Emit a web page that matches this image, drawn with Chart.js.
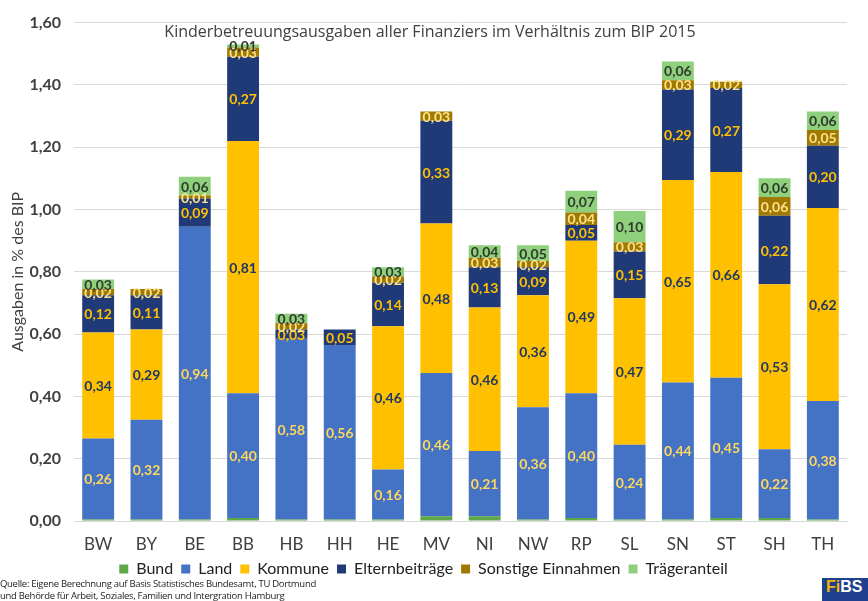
<!DOCTYPE html>
<html>
<head>
<meta charset="utf-8">
<script src="https://cdn.jsdelivr.net/npm/chart.js@4"></script>
<style>
  body { margin: 0; background: #fff; }
  #wrap { position: relative; width: 868px; height: 601px; font-family: 'Open Sans', sans-serif; }
  #titel { position: absolute; left: 0; width: 860px; top: 20px; text-align: center; font-size: 16px; color: #404040; }
  #quelle { position: absolute; left: 0; top: 578px; font-size: 9.5px; line-height: 11.5px; color: #222; letter-spacing: -0.3px; }
  #logo { position: absolute; right: 0; top: 578px; width: 46px; height: 23px; background: #1f3f8f; color: #fff; font: bold 16px 'Liberation Sans', sans-serif; padding-left: 4px; box-sizing: border-box; }
  #logo span { color: #f2b800; }
</style>
</head>
<body>
<div id="wrap">
  <canvas id="graficoBIP" width="868" height="601"></canvas>
  <div id="titel">Kinderbetreuungsausgaben aller Finanziers im Verhältnis zum BIP 2015</div>
  <div id="quelle">Quelle: Eigene Berechnung auf Basis Statistisches Bundesamt, TU Dortmund<br>und Behörde für Arbeit, Soziales, Familien und Intergration Hamburg</div>
  <div id="logo"><span>Fi</span>BS</div>
</div>
<script>
    // Daten (Anteile am BIP in %)
    const laender = ['BW', 'BY', 'BE', 'BB', 'HB', 'HH', 'HE', 'MV', 'NI', 'NW', 'RP', 'SL', 'SN', 'ST', 'SH', 'TH'];
    const bund      = [0.005, 0.005, 0.005, 0.01, 0.005, 0.005, 0.005, 0.015, 0.015, 0.005, 0.01, 0.005, 0.005, 0.01, 0.01, 0.005];
    const land      = [0.26, 0.32, 0.94, 0.40, 0.58, 0.56, 0.16, 0.46, 0.21, 0.36, 0.40, 0.24, 0.44, 0.45, 0.22, 0.38];
    const kommune   = [0.34, 0.29, 0, 0.81, 0, 0, 0.46, 0.48, 0.46, 0.36, 0.49, 0.47, 0.65, 0.66, 0.53, 0.62];
    const eltern    = [0.12, 0.11, 0.09, 0.27, 0.03, 0.05, 0.14, 0.33, 0.13, 0.09, 0.05, 0.15, 0.29, 0.27, 0.22, 0.20];
    const sonstige  = [0.02, 0.02, 0.01, 0.03, 0.02, 0, 0.02, 0.03, 0.03, 0.02, 0.04, 0.03, 0.03, 0.02, 0.06, 0.05];
    const traeger   = [0.03, 0, 0.06, 0.01, 0.03, 0, 0.03, 0, 0.04, 0.05, 0.07, 0.10, 0.06, 0, 0.06, 0.06];
    const yTicks    = [0, 0.2, 0.4, 0.6, 0.8, 1.0, 1.2, 1.4, 1.6];

    // Farbe der Beschriftung je Reihe (null = keine Beschriftung)
    const labelFarben = [null, '#ffd75e', '#1f3864', '#ffc000', '#ffe08a', '#2e3b2e'];

    // Beschriftungen in den Balken
    const wertePlugin = {
        id: 'werte',
        afterDatasetsDraw(chart) {
            const c = chart.ctx;
            c.save();
            c.font = 'bold 14px Lato, sans-serif';
            c.textAlign = 'center';
            c.textBaseline = 'middle';
            chart.data.datasets.forEach((ds, i) => {
                if (!labelFarben[i]) return;
                const meta = chart.getDatasetMeta(i);
                meta.data.forEach((bar, j) => {
                    const v = ds.data[j];
                    if (!v) return;
                    c.fillStyle = labelFarben[i];
                    c.fillText(v.toFixed(2).replace('.', ','), bar.x, (bar.y + bar.base) / 2 + 1);
                });
            });
            c.restore();
        }
    };

    const ctx = document.getElementById('graficoBIP').getContext('2d');
    new Chart(ctx, {
        type: 'bar',
        data: {
            labels: laender,
            datasets: [
                { label: 'Bund', data: bund, backgroundColor: '#5ea84a' },
                { label: 'Land', data: land, backgroundColor: '#4472c4' },
                { label: 'Kommune', data: kommune, backgroundColor: '#ffc000' },
                { label: 'Elternbeiträge', data: eltern, backgroundColor: '#203a78' },
                { label: 'Sonstige Einnahmen', data: sonstige, backgroundColor: '#a07a00' },
                { label: 'Trägeranteil', data: traeger, backgroundColor: '#8fd07c' }
            ]
        },
        options: {
            responsive: false,
            animation: false,
            datasets: { bar: { barPercentage: 0.66, categoryPercentage: 1 } },
            layout: { padding: { top: 19, right: 21, left: 0, bottom: 14 } },
            plugins: {
                legend: {
                    position: 'bottom',
                    labels: {
                        boxWidth: 9, boxHeight: 9, padding: 8,
                        color: '#222',
                        font: { size: 16, family: 'Lato, sans-serif' }
                    }
                },
                tooltip: { enabled: false }
            },
            scales: {
                x: {
                    stacked: true,
                    grid: { display: false },
                    border: { color: '#d9d9d9' },
                    ticks: { color: '#404040', font: { size: 17, family: 'Lato, sans-serif' }, padding: 5 },
                    afterFit: s => { s.height = 32; }
                },
                y: {
                    stacked: true,
                    min: 0, max: 1.6,
                    afterBuildTicks: s => { s.ticks = yTicks.map(v => ({ value: v })); },
                    grid: { color: '#d9d9d9', drawTicks: false },
                    border: { display: false },
                    ticks: {
                        color: '#404040', padding: 13,
                        font: { size: 16, weight: 'bold', family: 'Lato, sans-serif' },
                        callback: v => v.toFixed(2).replace('.', ',')
                    },
                    title: {
                        display: true, text: 'Ausgaben in % des BIP', color: '#404040',
                        font: { size: 16, family: 'Lato, sans-serif' }, padding: { top: 8, bottom: 0 }
                    },
                    afterFit: s => { s.width = 74; }
                }
            }
        },
        plugins: [wertePlugin]
    });
</script>
</body>
</html>
